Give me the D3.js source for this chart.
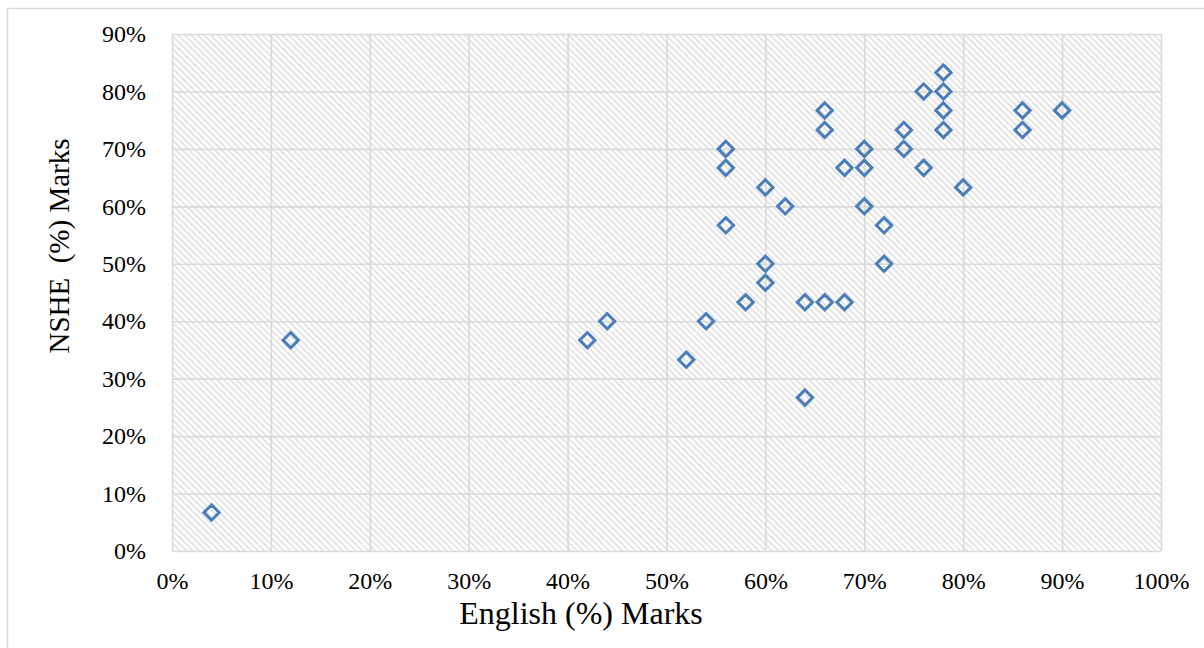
<!DOCTYPE html>
<html>
<head>
<meta charset="utf-8">
<script src="https://cdn.jsdelivr.net/npm/d3@7/dist/d3.min.js"></script>
<style>
    body { margin: 0; background: #fff; }
    text { font-family: "Liberation Serif", "Times New Roman", serif; fill: #000; }
</style>
</head>
<body>
<div id="chart"></div>
<script>
// Données : notes en anglais (%) et NSHE (%)
const englishMarks = [4, 12, 42, 44, 52, 54, 56, 56, 56, 58, 60, 60, 60, 62, 64, 64, 66, 66, 66, 68, 68,
    70, 70, 70, 72, 72, 74, 74, 76, 76, 78, 78, 78, 78, 80, 86, 86, 90];
const nsheMarks = [6.7, 36.7, 36.7, 40, 33.3, 40, 70, 66.7, 56.7, 43.3, 63.3, 50, 46.7, 60, 43.3, 26.7, 76.7, 73.3, 43.3, 66.7, 43.3,
    70, 66.7, 60, 56.7, 50, 73.3, 70, 80, 66.7, 83.3, 80, 76.7, 73.3, 63.3, 76.7, 73.3, 76.7];
const xTicks = [0, 10, 20, 30, 40, 50, 60, 70, 80, 90, 100];
const yTicks = [0, 10, 20, 30, 40, 50, 60, 70, 80, 90];

function createChart() {
    const W = 1204, H = 648;
    const margin = { top: 34, right: 43, bottom: 97, left: 172 };
    const width = W - margin.left - margin.right;
    const height = H - margin.top - margin.bottom;

    const data = englishMarks.map((e, i) => ({ x: e, y: nsheMarks[i] }));

    const svg = d3.select("#chart")
        .append("svg")
        .attr("width", W)
        .attr("height", H);

    // Cadre extérieur
    svg.append("rect")
        .attr("x", 7.5).attr("y", 8.5)
        .attr("width", W).attr("height", H)
        .attr("fill", "none")
        .attr("stroke", "#d9d9d9")
        .attr("stroke-width", 1.5);

    // Motif hachuré
    const pattern = svg.append("defs").append("pattern")
        .attr("id", "hatch")
        .attr("patternUnits", "userSpaceOnUse")
        .attr("width", 4.6).attr("height", 4.6)
        .attr("patternTransform", "rotate(45)");
    pattern.append("rect").attr("width", 4.6).attr("height", 4.6).attr("fill", "#fff");
    pattern.append("rect").attr("width", 4.6).attr("height", 2).attr("fill", "#e4e4e4");

    const g = svg.append("g")
        .attr("transform", `translate(${margin.left},${margin.top})`);

    const x = d3.scaleLinear().domain([0, 100]).range([0, width]);
    const y = d3.scaleLinear().domain([0, 90]).range([height, 0]);

    g.append("rect")
        .attr("width", width).attr("height", height)
        .attr("fill", "url(#hatch)");

    // Grille
    g.append("g")
        .call(d3.axisBottom(x).tickValues(xTicks).tickSize(height).tickFormat(""))
        .call(a => a.select(".domain").remove())
        .call(a => a.selectAll("line").attr("stroke", "#d9d9d9").attr("stroke-width", 1.6));

    g.append("g")
        .call(d3.axisLeft(y).tickValues(yTicks).tickSize(-width).tickFormat(""))
        .call(a => a.select(".domain").remove())
        .call(a => a.selectAll("line").attr("stroke", "#d9d9d9").attr("stroke-width", 1.6));

    // Étiquettes des axes
    g.append("g")
        .attr("transform", `translate(0,${height})`)
        .call(d3.axisBottom(x).tickValues(xTicks).tickSize(0).tickPadding(21).tickFormat(d => d + "%"))
        .call(a => a.select(".domain").remove())
        .call(a => a.selectAll("text").style("font-size", "24px"));

    g.append("g")
        .call(d3.axisLeft(y).tickValues(yTicks).tickSize(0).tickPadding(26).tickFormat(d => d + "%"))
        .call(a => a.select(".domain").remove())
        .call(a => a.selectAll("text").style("font-size", "24px"));

    // Titres
    svg.append("text")
        .attr("x", 581).attr("y", 624)
        .attr("text-anchor", "middle")
        .style("font-size", "32px")
        .text("English (%) Marks");

    svg.append("text")
        .attr("transform", "translate(69,246) rotate(-90)")
        .attr("text-anchor", "middle")
        .style("font-size", "29px")
        .style("white-space", "pre")
        .text("NSHE  (%) Marks");

    // Points (losanges)
    const diamond = d3.symbol().type(d3.symbolDiamond2).size(150);
    g.selectAll(".pt")
        .data(data)
        .enter()
        .append("path")
        .attr("class", "pt")
        .attr("transform", d => `translate(${x(d.x)},${y(d.y)})`)
        .attr("d", diamond)
        .attr("fill", "none")
        .attr("stroke", "#4a7ebb")
        .attr("stroke-width", 3);
}

createChart();
</script>
</body>
</html>
